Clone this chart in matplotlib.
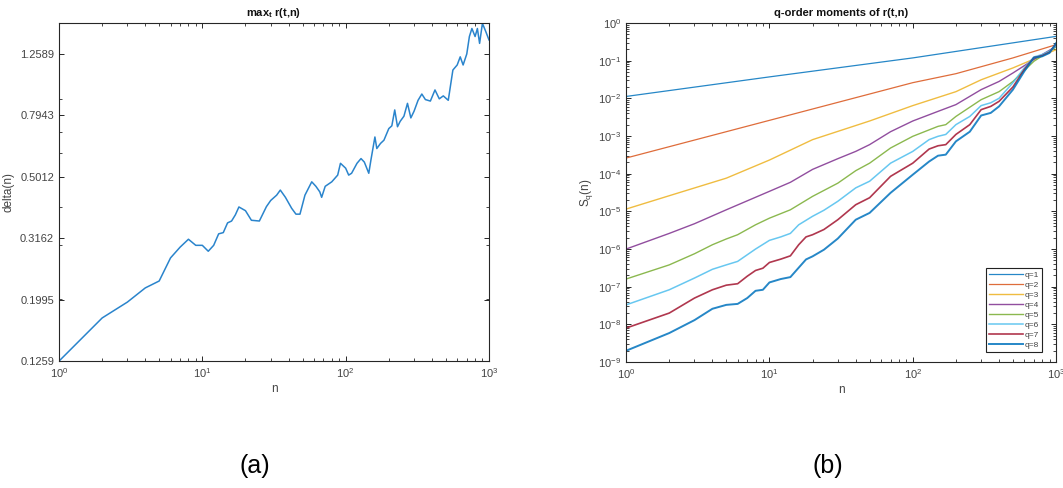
import matplotlib
matplotlib.use("Agg")
import matplotlib.pyplot as plt
from matplotlib.ticker import LogLocator, NullFormatter, FixedLocator, FixedFormatter

plt.rcParams["font.family"] = ["Liberation Sans", "DejaVu Sans"]

# --- panel (a): max_t r(t,n) ---
n_a = [1, 2, 3, 4, 5, 6, 7, 8, 9, 10, 11, 12, 13, 14, 15, 16, 17, 18, 20, 22,
       25, 28, 30, 33, 35, 38, 42, 45, 48, 52, 58, 62, 66, 68, 72, 80, 88, 92,
       100, 105, 110, 120, 128, 135, 145, 150, 160, 165, 175, 185, 200, 210,
       220, 230, 240, 255, 270, 285, 300, 320, 340, 360, 390, 420, 450, 480,
       520, 540, 560, 600, 630, 660, 700, 730, 760, 800, 830, 860, 900, 950, 1000]
delta = [0.1259, 0.174, 0.196, 0.218, 0.2296, 0.273, 0.296, 0.314, 0.300, 0.300,
         0.287, 0.300, 0.327, 0.330, 0.355, 0.360, 0.377, 0.400, 0.389, 0.362,
         0.360, 0.401, 0.420, 0.437, 0.454, 0.430, 0.396, 0.379, 0.379, 0.437,
         0.483, 0.467, 0.448, 0.430, 0.467, 0.483, 0.508, 0.555, 0.535, 0.508,
         0.515, 0.555, 0.575, 0.560, 0.515, 0.568, 0.676, 0.620, 0.644, 0.660,
         0.720, 0.735, 0.828, 0.730, 0.760, 0.790, 0.870, 0.780, 0.820, 0.890,
         0.933, 0.895, 0.885, 0.962, 0.900, 0.920, 0.890, 1.000, 1.117, 1.160,
         1.233, 1.160, 1.260, 1.436, 1.525, 1.436, 1.525, 1.364, 1.585, 1.490, 1.400]
yticks_a = [0.1259, 0.1995, 0.3162, 0.5012, 0.7943, 1.2589]

# --- panel (b): q-order moments S_q(n) ---
q_labels = ["q=1", "q=2", "q=3", "q=4", "q=5", "q=6", "q=7", "q=8"]
q_colors = ["#0072BD", "#D95319", "#EDB120", "#7E2F8E", "#77AC30",
            "#4DBEEE", "#A2142F", "#0072BD"]

n_q1 = [1, 10, 100, 1000]
s_q1 = [0.0112, 0.037, 0.118, 0.44]
n_q2 = [1, 10, 100, 200, 500, 1000]
s_q2 = [2.6e-4, 2.6e-3, 2.6e-2, 4.5e-2, 0.118, 0.265]
n_q3 = [1, 2, 5, 10, 20, 50, 100, 200, 300, 500, 1000]
s_q3 = [1.15e-5, 2.6e-5, 7.6e-5, 2.3e-4, 8.0e-4, 2.5e-3, 6.4e-3, 1.5e-2,
        3.1e-2, 6.4e-2, 0.195]
n_q4 = [1, 2, 3, 5, 10, 14, 20, 30, 40, 50, 70, 100, 150, 200, 300, 400,
        500, 700, 1000]
s_q4 = [1.0e-6, 2.6e-6, 4.7e-6, 1.1e-5, 3.4e-5, 5.9e-5, 1.3e-4, 2.5e-4,
        3.9e-4, 5.9e-4, 1.3e-3, 2.5e-3, 4.5e-3, 6.8e-3, 1.7e-2, 2.8e-2,
        4.7e-2, 0.107, 0.24]
n_q5 = [1, 2, 3, 4, 5, 6, 8, 10, 14, 20, 30, 40, 50, 70, 100, 150, 170, 200,
        300, 400, 500, 700, 1000]
s_q5 = [1.6e-7, 3.8e-7, 7.5e-7, 1.3e-6, 1.85e-6, 2.4e-6, 4.4e-6, 6.6e-6,
        1.1e-5, 2.5e-5, 5.6e-5, 1.2e-4, 1.9e-4, 4.8e-4, 9.8e-4, 1.8e-3,
        2.0e-3, 3.3e-3, 9.2e-3, 1.5e-2, 2.8e-2, 9.6e-2, 0.23]
n_q6 = [1, 2, 3, 4, 5, 6, 8, 10, 12, 14, 16, 20, 24, 30, 40, 50, 70, 100, 130,
        150, 170, 200, 250, 300, 350, 400, 500, 600, 700, 800, 900, 1000]
s_q6 = [3.3e-8, 8.3e-8, 1.7e-7, 2.9e-7, 3.8e-7, 4.7e-7, 1.0e-6, 1.7e-6,
        2.1e-6, 2.6e-6, 4.4e-6, 7.4e-6, 1.07e-5, 1.85e-5, 4.2e-5, 6.3e-5,
        1.9e-4, 3.9e-4, 8.0e-4, 9.8e-4, 1.1e-3, 2.0e-3, 3.3e-3, 6.4e-3,
        7.6e-3, 1.0e-2, 2.6e-2, 6.4e-2, 0.125, 0.145, 0.18, 0.24]
n_q7 = [1, 2, 3, 4, 5, 6, 7, 8, 9, 10, 12, 14, 16, 18, 20, 24, 30, 40, 50,
        70, 100, 130, 150, 170, 200, 250, 300, 350, 400, 500, 600, 700, 800,
        900, 1000]
s_q7 = [8.0e-9, 2.0e-8, 5.0e-8, 8.3e-8, 1.1e-7, 1.2e-7, 1.9e-7, 2.7e-7,
        3.1e-7, 4.4e-7, 5.4e-7, 6.6e-7, 1.3e-6, 2.1e-6, 2.4e-6, 3.3e-6,
        6.0e-6, 1.5e-5, 2.3e-5, 8.5e-5, 1.9e-4, 4.5e-4, 5.5e-4, 5.9e-4,
        1.1e-3, 2.0e-3, 5.0e-3, 6.1e-3, 8.3e-3, 2.0e-2, 5.8e-2, 0.12, 0.135,
        0.166, 0.28]
n_q8 = [1, 2, 3, 4, 5, 6, 7, 8, 9, 10, 12, 14, 16, 18, 20, 24, 30, 40, 50,
        70, 100, 130, 150, 170, 200, 250, 300, 350, 400, 500, 600, 700, 800,
        900, 1000]
s_q8 = [2.0e-9, 5.9e-9, 1.3e-8, 2.6e-8, 3.3e-8, 3.5e-8, 5.0e-8, 7.8e-8,
        8.3e-8, 1.3e-7, 1.6e-7, 1.8e-7, 3.2e-7, 5.3e-7, 6.4e-7, 9.6e-7,
        1.9e-6, 6.0e-6, 9.1e-6, 3.1e-5, 9.4e-5, 2.1e-4, 3.0e-4, 3.2e-4,
        7.2e-4, 1.3e-3, 3.5e-3, 4.1e-3, 6.1e-3, 1.7e-2, 5.2e-2, 0.12, 0.13,
        0.16, 0.29]

n_series = [n_q1, n_q2, n_q3, n_q4, n_q5, n_q6, n_q7, n_q8]
s_series = [s_q1, s_q2, s_q3, s_q4, s_q5, s_q6, s_q7, s_q8]
q_widths = [0.9, 0.9, 1.0, 1.0, 1.0, 1.1, 1.2, 1.4]

AX_COLOR = "#262626"
LABEL_COLOR = "#444444"


def style_axes(ax):
    for sp in ax.spines.values():
        sp.set_color(AX_COLOR)
        sp.set_linewidth(0.8)
    ax.tick_params(which="both", direction="in", top=True, right=True,
                   colors=AX_COLOR, labelcolor=LABEL_COLOR, labelsize=8)
    ax.tick_params(which="major", length=3.5, width=0.7)
    ax.tick_params(which="minor", length=2, width=0.6)


fig = plt.figure(figsize=(10.63, 4.88), dpi=100)
ax1 = fig.add_axes([0.0555, 0.260, 0.4045, 0.693])
ax2 = fig.add_axes([0.589, 0.258, 0.4045, 0.695])

# panel (a)
ax1.plot(n_a, delta, color="#2A84CC", lw=1.1)
ax1.set_xscale("log")
ax1.set_yscale("log")
ax1.set_xlim(1, 1000)
ax1.set_ylim(0.1259, 1.59)
ax1.yaxis.set_major_locator(FixedLocator(yticks_a))
ax1.yaxis.set_major_formatter(FixedFormatter([f"{v:.4f}" for v in yticks_a]))
ax1.yaxis.set_minor_locator(LogLocator(base=10, subs=range(2, 10)))
ax1.yaxis.set_minor_formatter(NullFormatter())
ax1.xaxis.set_minor_locator(LogLocator(base=10, subs=range(2, 10)))
ax1.xaxis.set_minor_formatter(NullFormatter())
style_axes(ax1)
ax1.set_title("max$_\\mathregular{t}$ r(t,n)", fontsize=8, fontweight="bold",
              pad=5, color="#111111")
ax1.set_xlabel("n", fontsize=8.5, color=LABEL_COLOR, labelpad=2)
ax1.set_ylabel("delta(n)", fontsize=8.5, color=LABEL_COLOR, labelpad=4)

# panel (b)
for ns, ss, lab, col, lw in zip(n_series, s_series, q_labels, q_colors, q_widths):
    ax2.plot(ns, ss, color=col, lw=lw, label=lab, alpha=0.85)
ax2.set_xscale("log")
ax2.set_yscale("log")
ax2.set_xlim(1, 1000)
ax2.set_ylim(1e-9, 1)
ax2.yaxis.set_major_locator(LogLocator(base=10, numticks=20))
ax2.yaxis.set_minor_locator(LogLocator(base=10, subs=range(2, 10), numticks=20))
ax2.yaxis.set_minor_formatter(NullFormatter())
ax2.xaxis.set_minor_locator(LogLocator(base=10, subs=range(2, 10)))
ax2.xaxis.set_minor_formatter(NullFormatter())
style_axes(ax2)
ax2.set_title("q-order moments of r(t,n)", fontsize=8, fontweight="bold",
              pad=5, color="#111111")
ax2.set_xlabel("n", fontsize=8.5, color=LABEL_COLOR, labelpad=2)
ax2.set_ylabel("S$_\\mathregular{q}$(n)", fontsize=8.5, color=LABEL_COLOR, labelpad=2)

leg = ax2.legend(loc="lower right", bbox_to_anchor=(0.967, 0.03), fontsize=6,
                 handlelength=4.0, handletextpad=0.2, labelspacing=0.25,
                 borderpad=0.4, fancybox=False, framealpha=1,
                 edgecolor="#222222", borderaxespad=0)
leg.get_frame().set_linewidth(0.8)
for t in leg.get_texts():
    t.set_color(LABEL_COLOR)

fig.text(0.240, 0.045, "(a)", fontsize=18, ha="center", va="center")
fig.text(0.779, 0.045, "(b)", fontsize=18, ha="center", va="center")

fig.savefig("out.png", dpi=100)
